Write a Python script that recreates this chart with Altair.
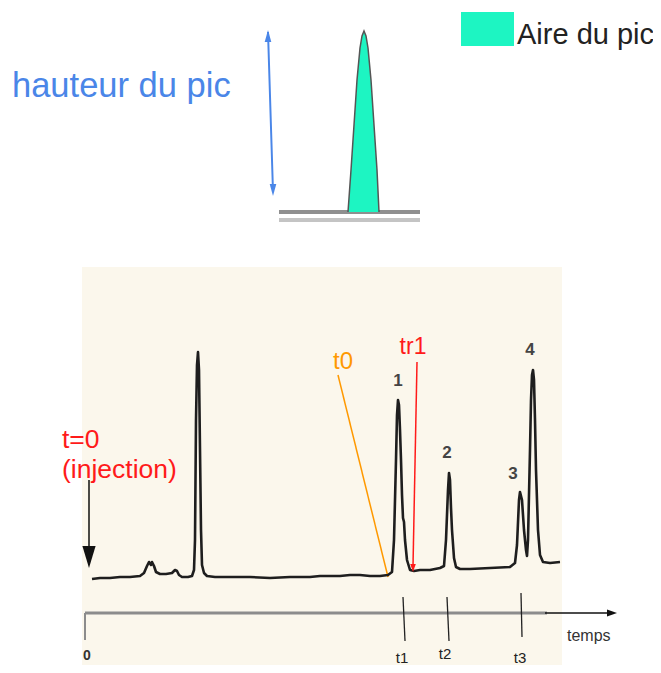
import altair as alt
import pandas as pd

# ---------------- data (figure units: px from the top-left of the picture) -------------
# chromatogram trace
trace_x = [92, 100, 110, 120, 130, 140, 144, 147, 149, 151, 152, 154, 156, 160, 166, 172, 175, 177,
           179, 182, 188, 192, 194, 195, 196, 197, 198, 199, 200, 201, 202, 204, 207, 215, 230, 250,
           270, 290, 310, 320, 330, 340, 350, 360, 370, 380, 388, 392, 394, 396, 397, 398, 399, 400,
           401, 402, 403, 404, 405, 407, 410, 414, 420, 430, 440, 444, 446, 448, 449, 450, 451, 452,
           454, 456, 460, 470, 490, 510, 515, 517, 519, 520, 522, 524, 526, 527, 528, 530, 531, 532,
           533, 534, 535, 536, 538, 540, 543, 550, 560]
trace_y = [579, 578, 578, 577, 577, 576, 573, 566, 562, 565, 562, 566, 572, 574, 574, 573, 570, 571,
           575, 577, 577, 576, 570, 540, 420, 365, 352, 370, 450, 530, 565, 573, 576, 577, 577, 577,
           578, 577, 577, 576, 576, 576, 575, 575, 576, 576, 575, 572, 540, 460, 415, 400, 405, 430,
           460, 495, 518, 522, 540, 560, 570, 571, 570, 570, 568, 566, 540, 490, 473, 480, 508, 530,
           558, 567, 569, 569, 568, 567, 563, 545, 500, 492, 500, 530, 550, 556, 540, 450, 400, 375,
           370, 380, 420, 470, 530, 555, 562, 563, 562]

# schematic peak (top)
peak_x = [348, 351, 354, 357, 360, 362, 364, 366, 368, 371, 374, 377, 379]
peak_y = [212, 170, 125, 80, 48, 36, 31, 36, 48, 80, 125, 170, 212]
peak_base = 212

# straight segments: x1, y1, x2, y2, colour, width
seg_x1 = [338, 417, 89, 85, 85, 545, 403, 447, 521, 268, 279, 279]
seg_y1 = [375, 362, 480, 613, 613, 613, 597, 597, 593, 32, 212, 220]
seg_x2 = [388, 413, 89, 547, 85, 612, 405, 449, 522, 273, 420, 420]
seg_y2 = [577, 566, 552, 613, 640, 613, 641, 641, 637, 192, 212, 220]
seg_col = ["#ff9900", "#ff1a1a", "#111111", "#8c8c8c", "#8c8c8c", "#111111", "#222222",
           "#222222", "#222222", "#4a86e8", "#8f8f8f", "#c4c4c4"]
seg_w = [1.5, 1.5, 1.5, 3, 2, 1.5, 1.3, 1.3, 1.3, 2, 4, 4]

# arrow heads: x, y, colour, size, shape
head_x = [89, 413, 612, 268, 273]
head_y = [557, 568, 613, 36, 190]
head_col = ["#111111", "#ff1a1a", "#111111", "#4a86e8", "#4a86e8"]
head_size = [484, 64, 100, 144, 144]
head_shape = ["M-0.6,-1L0.6,-1L0,1Z", "M-0.7,-1L0.7,-1L0,1Z", "M-1,-0.7L-1,0.7L1,0Z",
              "M-0.55,1L0.55,1L0,-1Z", "M-0.55,-1L0.55,-1L0,1Z"]

# texts
txt = ["hauteur du pic", "Aire du pic", "t=0", "(injection)", "t0", "tr1",
       "1", "2", "3", "4", "0", "t1", "t2", "t3", "temps"]
txt_x = [12, 517, 62, 62, 333, 413, 398, 447, 513, 530, 87, 402, 445, 520, 567]
txt_y = [87, 35, 440, 470, 362, 347, 381, 453, 474, 350, 656, 658, 654, 658, 636]
txt_col = ["#4a86e8", "#222222", "#ff1a1a", "#ff1a1a", "#ff9900", "#ff1a1a",
           "#444444", "#444444", "#444444", "#444444", "#333333", "#222222", "#222222",
           "#222222", "#333333"]
txt_size = [34.5, 29, 26.5, 26.5, 24, 23, 17, 17, 17, 17, 14, 15, 15, 15, 16]
txt_weight = ["normal", "normal", "normal", "normal", "normal", "normal",
              "bold", "bold", "bold", "bold", "bold", "normal", "normal", "normal", "normal"]
txt_align = ["left", "left", "left", "left", "left", "center",
             "center", "center", "center", "center", "center", "center", "center", "center", "left"]

# rectangles: cream paper and legend swatch
rect_x1 = [82, 461]
rect_x2 = [562, 514]
rect_y1 = [267, 12]
rect_y2 = [673, 46]
rect_col = ["#fbf7ec", "#1df5c2"]

GREEN = "#1df5c2"

# ---------------- chart -------------------------------------------------------------
xs = alt.Scale(domain=[8, 653], nice=False, zero=False)
ys = alt.Scale(domain=[8, 665], nice=False, zero=False, reverse=True)


def X(f):
    return alt.X(f, type="quantitative", scale=xs, axis=None)


def Y(f):
    return alt.Y(f, type="quantitative", scale=ys, axis=None)


rects = pd.DataFrame(dict(x1=rect_x1, x2=rect_x2, y1=rect_y1, y2=rect_y2, c=rect_col))
rect_layer = alt.Chart(rects).mark_rect().encode(
    x=X("x1"), x2="x2", y=Y("y1"), y2="y2",
    color=alt.Color("c:N", scale=None))

segs = pd.DataFrame(dict(x1=seg_x1, y1=seg_y1, x2=seg_x2, y2=seg_y2))
seg_layers = [
    alt.Chart(segs.iloc[[k]]).mark_rule(strokeWidth=float(seg_w[k]), color=seg_col[k]).encode(
        x=X("x1"), y=Y("y1"), x2="x2", y2="y2")
    for k in range(len(seg_x1))
]

peak = pd.DataFrame(dict(x=peak_x, y=peak_y, b=[peak_base] * len(peak_x)))
peak_area = alt.Chart(peak).mark_area(color=GREEN, opacity=1).encode(
    x=X("x"), y=Y("y"), y2="b")
peak_line = alt.Chart(peak).mark_line(color="#555555", strokeWidth=1.5).encode(
    x=X("x"), y=Y("y"))

trace = pd.DataFrame(dict(x=trace_x, y=trace_y))
trace_layer = alt.Chart(trace).mark_line(color="#1e1e1e", strokeWidth=2.6,
                                         strokeJoin="round").encode(x=X("x"), y=Y("y"))

head_layers = [
    alt.Chart(pd.DataFrame(dict(x=[head_x[k]], y=[head_y[k]]))).mark_point(
        shape=head_shape[k], size=head_size[k], filled=True, color=head_col[k], opacity=1,
        strokeWidth=0).encode(x=X("x"), y=Y("y"))
    for k in range(len(head_x))
]

text_layers = [
    alt.Chart(pd.DataFrame(dict(x=[txt_x[k]], y=[txt_y[k]], t=[txt[k]]))).mark_text(
        align=txt_align[k], baseline="middle", fontSize=txt_size[k], color=txt_col[k],
        fontWeight=txt_weight[k], font="Liberation Sans").encode(x=X("x"), y=Y("y"), text="t:N")
    for k in range(len(txt))
]

chart = alt.layer(
    rect_layer, *seg_layers, peak_area, peak_line, trace_layer, *head_layers, *text_layers
).properties(width=645, height=657, padding=0, autosize="none",
             background="white").configure_view(stroke=None)

chart.save("out.html", embed_options={"renderer": "svg", "actions": False})
